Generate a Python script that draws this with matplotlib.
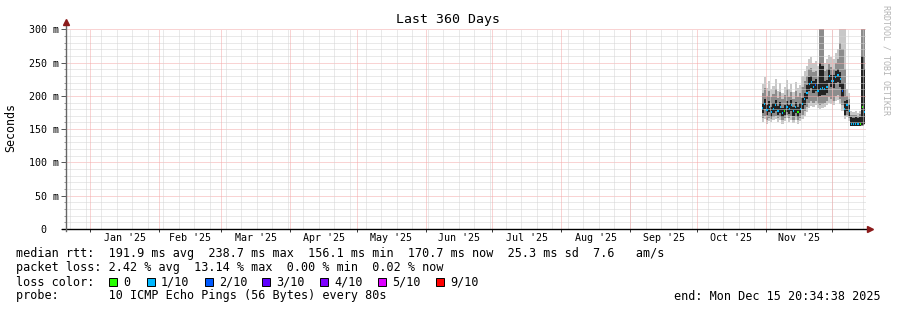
import matplotlib
matplotlib.use("Agg")
import matplotlib.pyplot as plt
from matplotlib.patches import Rectangle
import pandas as pd
from datetime import datetime

# smokeping style data, values in ms, one sample per day from Oct 30
median = [182, 188, 179, 184, 176, 181, 186, 178, 183, 175, 178, 184, 180, 186, 177, 183,
          176, 181, 188, 195, 205, 218, 221, 213, 216, 208, 211, 212, 211, 213, 230, 223,
          222, 229, 231, 226, 208, 181, 186, 178, 157, 157, 157, 157, 157, 183, 176]
loss = [1, 1, 1, 1, 1, 1, 1, 1, 1, 1, 0, 1, 1, 1, 1, 1,
        0, 1, 1, 1, 1, 1, 1, 1, 2, 1, 1, 1, 1, 1, 1, 1,
        1, 1, 1, 1, 2, 1, 1, 1, 1, 1, 1, 1, 0, 0, 1]
smoke_hi = [218, 228, 212, 222, 210, 215, 225, 208, 220, 205, 214, 224, 210, 218, 206, 221,
            212, 216, 230, 238, 245, 255, 258, 250, 252, 245, 320, 320, 250, 255, 262, 258,
            255, 265, 270, 320, 320, 320, 210, 205, 178, 176, 177, 175, 178, 320, 320]
smoke_lo = [160, 165, 158, 162, 160, 163, 165, 161, 164, 158, 162, 166, 160, 164, 159, 163,
            158, 162, 165, 170, 176, 182, 185, 183, 186, 182, 180, 182, 184, 186, 190, 188,
            186, 192, 194, 188, 178, 165, 168, 162, 154, 154, 154, 154, 154, 154, 156]
mid_hi = [205, 212, 200, 208, 198, 203, 210, 197, 206, 195, 201, 210, 199, 206, 196, 207,
          199, 204, 214, 222, 230, 240, 242, 236, 238, 230, 320, 320, 238, 240, 248, 244,
          240, 250, 255, 280, 270, 240, 200, 196, 172, 171, 172, 170, 173, 320, 320]
mid_lo = [166, 170, 164, 167, 165, 168, 170, 166, 169, 163, 166, 171, 166, 170, 164, 168,
          164, 167, 171, 177, 183, 190, 192, 190, 192, 188, 186, 188, 190, 193, 198, 195,
          193, 200, 202, 196, 186, 170, 172, 166, 155, 155, 155, 155, 155, 155, 157]
core_hi = [190, 195, 186, 192, 183, 189, 194, 185, 191, 182, 186, 193, 187, 194, 184, 191,
           184, 189, 197, 205, 216, 228, 230, 222, 226, 218, 250, 245, 222, 224, 240, 232,
           231, 238, 240, 236, 220, 192, 194, 186, 168, 167, 168, 166, 168, 260, 240]
core_lo = [175, 180, 172, 176, 169, 174, 178, 171, 175, 168, 171, 176, 173, 178, 170, 175,
           169, 174, 180, 186, 196, 208, 212, 204, 207, 199, 200, 201, 202, 204, 220, 213,
           212, 219, 221, 214, 198, 172, 177, 170, 155, 155, 155, 155, 155, 156, 158]

loss_labels = ["0", "1/10", "2/10", "3/10", "4/10", "5/10", "9/10"]
loss_colors = ["#26ff00", "#00b8ff", "#0059ff", "#5e00ff", "#7e00ff", "#dd00ff", "#ff0000"]

W, H = 897, 310
plt.rcParams['font.family'] = ['DejaVu Sans Mono']


def fx(px):
    return px / W


def fy(py):
    return 1 - py / H


fig = plt.figure(figsize=(W / 100, H / 100), dpi=100)
fig.patch.set_facecolor("white")
ax = fig.add_axes([fx(65.5), fy(229), fx(865.5) - fx(65.5), fy(29.3) - fy(229)])

start = datetime(2024, 12, 20, 20, 34, 38)
end = datetime(2025, 12, 15, 20, 34, 38)
ax.set_xlim(start, end)
ax.set_ylim(0, 300)

days = pd.date_range("2025-10-30 12:00", periods=len(median), freq="D")

# smoke
ax.fill_between(days, smoke_lo, smoke_hi, step="mid", color="#c8c8c8", lw=0, zorder=1)
ax.fill_between(days, mid_lo, mid_hi, step="mid", color="#8c8c8c", lw=0, zorder=1.5)
ax.fill_between(days, core_lo, core_hi, step="mid", color="#222222", lw=0, zorder=2)

# grid on top of smoke
dot = (0, (1, 1))
for v in range(10, 300, 10):
    if v % 50:
        ax.axhline(v, color="#d4d4d4", lw=0.72, ls=dot, zorder=3)
for v in range(50, 301, 50):
    ax.axhline(v, color="#f4a8a8", lw=0.72, ls=dot, zorder=3)
for d in pd.date_range(start, end, freq="W-SUN"):
    ax.axvline(d, color="#d4d4d4", lw=0.72, ls=dot, zorder=3)
months = pd.date_range("2025-01-01", end, freq="MS")
for d in months:
    ax.axvline(d, color="#f4a8a8", lw=0.72, ls=dot, zorder=3)

# median coloured by loss
half = pd.Timedelta(hours=7)
ax.hlines(median, days - half, days + half,
          colors=[loss_colors[k] for k in loss], lw=1.5, zorder=4)

# axes
for s in ax.spines.values():
    s.set_visible(False)
ax.set_facecolor("white")
ax.plot([-0.005, 1.003], [0, 0], transform=ax.transAxes, color="black", lw=1.0,
        clip_on=False, zorder=5)
ax.plot([0.001, 0.001], [-0.01, 1.02], transform=ax.transAxes, color="#666666", lw=1.0,
        clip_on=False, zorder=5)
ax.plot([0.001], [1.035], transform=ax.transAxes, marker="^", ms=4, color="#8b1a1a",
        clip_on=False, zorder=6)
ax.plot([1.006], [0], transform=ax.transAxes, marker=">", ms=4, color="#8b1a1a",
        clip_on=False, zorder=6)

yt = list(range(0, 301, 50))
ax.set_yticks(yt)
ax.set_yticklabels(["0  "] + ["%d m" % v for v in yt[1:]], fontsize=7.2)
ax.set_yticks(range(0, 301, 10), minor=True)
ax.tick_params(axis="y", which="major", length=3.5, width=0.7, color="#555555", pad=1.5)
ax.tick_params(axis="y", which="minor", length=1.5, width=0.7, color="#999999")

mid_month = [m + (m + pd.offsets.MonthBegin(1) - m) / 2 for m in months[:-1]]
ax.set_xticks(months)
ax.set_xticklabels([])
ax.set_xticks(mid_month, minor=True)
ax.set_xticklabels([m.strftime("%b '%y") for m in mid_month], minor=True, fontsize=7.2)
ax.tick_params(axis="x", which="major", length=2, width=0.7, color="#333333")
ax.tick_params(axis="x", which="minor", length=0, pad=3)

fig.text(fx(11), fy(127), "Seconds", fontsize=8.4, rotation=90, ha="center", va="center")
fig.text(fx(447.5), fy(19), "Last 360 Days", fontsize=9.5, ha="center", va="center")
fig.text(fx(886), fy(60), "RRDTOOL / TOBI OETIKER", fontsize=6, color="#b4b4b4",
         rotation=270, ha="center", va="center")

# legend
lf = 8.5
fig.text(fx(16), fy(254), "median rtt:  191.9 ms avg  238.7 ms max  156.1 ms min  "
         "170.7 ms now  25.3 ms sd  7.6   am/s", fontsize=lf, va="center")
fig.text(fx(16), fy(268), "packet loss: 2.42 % avg  13.14 % max  0.00 % min  0.02 % now",
         fontsize=lf, va="center")
fig.text(fx(16), fy(282), "loss color:", fontsize=lf, va="center")
box_x = [109, 147, 205, 262, 320, 378, 436]
for bx, lab, col in zip(box_x, loss_labels, loss_colors):
    fig.patches.append(Rectangle((fx(bx), fy(286)), 8 / W, 8 / H, transform=fig.transFigure,
                                 facecolor=col, edgecolor="black", lw=0.7))
    fig.text(fx(bx + 14), fy(282), lab, fontsize=lf, va="center")
fig.text(fx(16), fy(296), "probe:       10 ICMP Echo Pings (56 Bytes) every 80s",
         fontsize=lf, va="center")
fig.text(fx(881), fy(296), "end: Mon Dec 15 20:34:38 2025", fontsize=lf, va="center",
         ha="right")

fig.savefig("out.png", dpi=100, facecolor="white")
